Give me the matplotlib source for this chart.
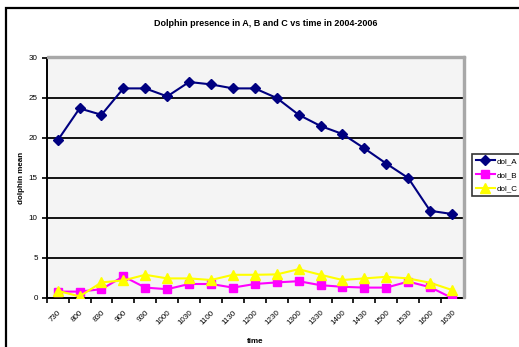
import numpy as np
import matplotlib
matplotlib.use("Agg")
import matplotlib.pyplot as plt
from matplotlib.patches import Rectangle

plt.rcParams['font.family'] = ['Liberation Sans', 'DejaVu Sans']

times = ['730', '800', '830', '900', '930', '1000', '1030', '1100', '1130', '1200',
         '1230', '1300', '1330', '1400', '1430', '1500', '1530', '1600', '1630']
dol_A = [19.7, 23.7, 22.9, 26.2, 26.2, 25.2, 27.0, 26.7, 26.2, 26.2,
         25.0, 22.9, 21.5, 20.5, 18.7, 16.8, 15.0, 10.9, 10.5]
dol_B = [0.8, 0.8, 1.1, 2.7, 1.3, 1.1, 1.75, 1.75, 1.3, 1.75,
         1.95, 2.1, 1.6, 1.4, 1.3, 1.3, 2.05, 1.35, 0.0]
dol_C = [0.9, 0.2, 1.95, 2.2, 2.9, 2.45, 2.45, 2.25, 2.9, 2.9,
         2.95, 3.6, 2.9, 2.25, 2.45, 2.65, 2.45, 1.9, 1.0]

W, H = 519, 347
fig = plt.figure(figsize=(W / 100, H / 100), dpi=100)

# outer chart border (runs off the right/bottom edge)
fig.patches.append(Rectangle((6 / W, -0.1), 2.0, 1.1 - 8 / H, transform=fig.transFigure,
                             fill=False, edgecolor='black', lw=1.6))

ax = fig.add_axes([46.7 / W, 1 - 298 / H, (463 - 46.7) / W, (298 - 58) / H])
ax.set_facecolor('#f4f4f4')

# gray shadow on top/right of the plot area
x0, y0, w, h = ax.get_position().bounds
fig.patches.append(Rectangle((x0, y0 + h), w + 2 / W, 2 / H, transform=fig.transFigure,
                             color='#a8a8a8', zorder=0))
fig.patches.append(Rectangle((x0 + w, y0), 2 / W, h + 2 / H, transform=fig.transFigure,
                             color='#a8a8a8', zorder=0))

x = np.arange(len(times))
ax.plot(x, dol_A, color='#000080', lw=1.5, marker='D', ms=5.5, label='dol_A', zorder=4)
ax.plot(x, dol_B, color='#ff00ff', lw=1.5, marker='s', ms=5.5, label='dol_B', zorder=3)
ax.plot(x, dol_C, color='#ffff00', lw=1.5, marker='^', ms=6.5, label='dol_C', zorder=3)

ax.set_xlim(-0.5, len(times) - 0.5)
ax.set_ylim(0, 30)
ax.set_yticks(range(0, 31, 5))
ax.yaxis.grid(True, color='black', lw=1.3)
ax.set_axisbelow(True)

ax.set_xticks(x - 0.5, minor=False)
ax.set_xticklabels([])
ax.set_xticks(x, minor=True)
ax.set_xticklabels(times, minor=True, rotation=45, ha='right', va='top',
                   rotation_mode='anchor', fontsize=5.8)
ax.tick_params(axis='x', which='minor', length=0, pad=8)
ax.tick_params(axis='x', which='major', length=3.5, width=1.2, direction='out')
ax.tick_params(axis='y', length=3.5, width=1.2, labelsize=5.8, pad=3)

for s in ('top', 'right'):
    ax.spines[s].set_visible(False)
for s in ('left', 'bottom'):
    ax.spines[s].set_linewidth(1.4)

ax.set_ylabel('dolphin mean', fontsize=5.8, fontweight='bold', labelpad=3)
ax.set_xlabel('time', fontsize=5.8, fontweight='bold', labelpad=8)

fig.text(266 / W, 1 - 24 / H, 'Dolphin presence in A, B and C vs time in 2004-2006',
         ha='center', va='center', fontsize=6.5, fontweight='bold')

leg = fig.legend(loc='upper left', bbox_to_anchor=(472 / W, 1 - 154 / H), fontsize=5.8,
                 frameon=True, fancybox=False, edgecolor='black', handlelength=2.4,
                 handletextpad=0.2, borderpad=0.45, labelspacing=0.75, borderaxespad=0)
leg.get_frame().set_linewidth(1.2)

fig.savefig('out.png', dpi=100)
